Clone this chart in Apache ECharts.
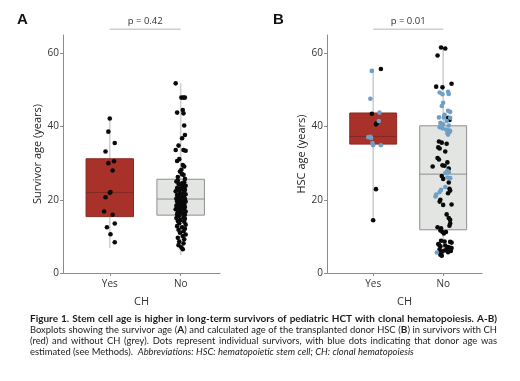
<!DOCTYPE html>
<html>
<head>
<meta charset="utf-8">
<script src="https://cdn.jsdelivr.net/npm/echarts@6/dist/echarts.min.js"></script>
<style>
html,body{margin:0;padding:0;background:#fff;}
#c{width:520px;height:381px;}
</style>
</head>
<body>
<div id="c"></div>
<script>
// ---------- data ----------
const categories = ['Yes', 'No'];
const yTicks = [0, 20, 40, 60];
// box stats: [x, whiskerLow, Q1, median, Q3, whiskerHigh]
const boxA = [[1, 6.8, 15.4, 22.0, 31.2, 42.5], [2, 4.9, 15.8, 20.2, 25.6, 51.8]];
const boxB = [[1, 14.1, 35.2, 37.3, 43.7, 55.8], [2, 4.6, 11.8, 27.0, 40.2, 61.7]];
// significance brackets: [fromCategory, toCategory, level]
const pA = 'p = 0.42';
const pB = 'p = 0.01';
const bracket = [[1, 2, 66.6]];

// panel A dots [x (category + jitter), age]
const dotsAYes = [[1.00,42.2],[0.98,38.6],[1.07,35.5],[0.94,33.2],[1.06,30.5],[0.98,30.0],[1.04,28.0],[1.01,22.1],[1.00,21.9],[0.94,20.7],[0.92,16.8],[1.04,15.9],[1.07,13.5],[0.96,12.5],[1.01,10.6],[1.07,8.4]];
const dotsANo = [
 [1.93,51.8],[2.01,47.9],[2.04,47.9],[2.06,47.9],[1.95,43.8],[2.03,44.5],[2.04,43.6],[2.05,40.3],[2.06,37.7],[2.02,36.8],[1.97,34.8],[1.93,33.6],[2.04,33.6],[2.07,33.4],[1.98,31.1],[1.95,30.6],[2.03,29.5],[2.05,29.1],[2.01,28.2],[1.99,27.7],[2.04,26.8],[1.96,26.2],[2.06,25.7],[2.02,27.0],
 [1.94,25.0],[2.02,24.5],[1.99,24.1],[2.07,23.8],[1.96,25.2],[2.05,24.8],[1.97,24.3],[2.03,23.5],[1.95,23.2],[2.00,23.0],[2.06,22.7],[1.98,22.5],[1.93,22.3],[2.04,22.0],[1.99,21.8],[2.07,21.5],[1.95,21.3],[2.02,21.0],[1.97,20.8],[2.05,20.6],[2.00,20.5],[1.94,20.3],[2.06,20.2],[2.03,22.9],
 [1.98,20.0],[2.04,19.8],[1.95,19.6],[2.07,19.5],[2.01,19.3],[1.96,19.0],[2.05,18.8],[1.99,18.6],[1.94,18.4],[2.03,18.2],[2.06,18.0],[1.97,17.8],[2.02,17.6],[1.93,17.4],[2.05,17.2],[1.99,17.0],[2.07,16.8],[1.96,16.6],[2.01,16.4],[2.04,16.2],[1.95,16.0],[2.06,15.9],[1.98,15.8],[2.03,19.9],
 [1.97,15.5],[2.04,15.3],[1.94,15.0],[2.06,14.8],[2.00,14.5],[1.96,14.2],[2.05,14.0],[1.98,13.6],[2.07,13.2],[1.95,12.8],[2.02,12.5],[2.06,12.1],[1.97,11.8],[2.04,11.4],[1.99,11.0],[2.07,10.5],[2.03,10.1],[1.96,9.6],[2.05,9.2],[1.98,8.6],[2.04,8.1],[1.97,7.6],[2.01,7.0],[2.03,6.5]
];
// panel B dots: black = known donor age, blue = estimated donor age
const dotsBYesBlack = [[1.11,55.7],[0.98,43.5],[1.04,40.6],[1.05,40.9],[1.04,22.9],[1.00,14.4]];
const dotsBYesBlue = [[0.98,55.2],[0.96,47.6],[1.09,43.8],[1.08,41.5],[0.93,37.1],[0.96,37.2],[0.99,35.5],[1.00,34.9],[1.11,34.9],[0.97,36.9]];
const dotsBNoBlack = [
 [1.97,61.6],[2.03,61.3],[1.92,59.4],[1.90,50.9],[1.99,50.7],[2.12,51.7],[2.07,42.4],[2.09,41.8],
 [1.94,35.9],[1.98,35.6],[2.05,35.3],[1.93,34.3],[1.95,34.0],[2.03,33.2],[1.92,31.4],[1.94,31.0],[1.99,29.4],[2.02,29.3],[1.85,29.1],[2.08,28.5],[2.06,30.2],
 [2.00,25.7],[2.08,24.7],[2.09,23.0],[2.10,22.5],[1.96,20.0],[2.00,18.6],[2.12,18.7],[2.08,15.0],[2.10,14.5],[2.10,13.5],[2.09,12.9],[1.92,12.5],[2.07,21.8],[1.98,26.5],[1.95,19.5],[2.05,16.0],[1.97,12.2],
 [1.96,11.6],[1.99,11.2],[2.04,11.2],[2.01,10.8],[1.97,8.8],[2.02,8.6],[2.10,8.5],[2.12,8.3],[1.93,7.9],[1.94,7.7],[1.96,7.3],[2.03,7.5],[2.07,7.1],[2.10,6.9],[2.12,6.8],[2.06,6.8],[1.95,6.5],[2.03,6.2],[1.99,5.9],[2.07,5.7],[1.96,5.5],[2.11,6.0],[1.96,5.0],[1.98,4.7]
];
const dotsBNoBlue = [
 [1.95,49.3],[1.99,48.8],[2.07,49.5],[2.08,48.9],[2.00,46.5],[1.98,45.6],[2.07,44.3],[2.10,44.0],[2.02,43.2],[1.94,42.5],[2.01,42.5],[2.10,42.4],[2.05,41.5],[1.96,41.0],[2.00,40.6],[2.08,40.3],
 [1.95,39.8],[1.99,39.5],[2.04,39.2],[2.08,39.0],[2.10,38.8],[2.09,38.5],[2.06,38.2],[2.07,37.8],[2.06,27.9],[2.08,27.5],[2.03,27.3],
 [2.06,26.1],[2.10,25.9],[2.03,23.5],[1.97,22.7],[1.95,22.1],[1.90,21.4],[1.89,20.9],
 [1.91,5.6]
];

// caption lines: '{b|..}' bold, '{i|..}' italic; last line not justified
const captionLines = [
 '{b|Figure 1. Stem cell age is higher in long-term survivors of pediatric HCT with clonal hematopoiesis. A-B)}',
 'Boxplots showing the survivor age ({b|A}) and calculated age of the transplanted donor HSC ({b|B}) in survivors with CH',
 '(red) and without CH (grey). Dots represent individual survivors, with blue dots indicating that donor age was',
 'estimated (see Methods).  {i|Abbreviations: HSC: hematopoietic stem cell; CH: clonal hematopoiesis}'
];

// ---------- styles ----------
const FONT = 'Open Sans';
const CAP_FONTS = {n: '9.4px Lato', b: 'bold 10px Lato', i: 'italic 9.4px Lato'};
const CAP_LEFT = 30, CAP_RIGHT = 497, CAP_TOP = 314, CAP_LH = 11;
const boxFill = ['#a8322a', '#e3e5e2'];
const boxStroke = ['#8a2a23', '#8f8f8f'];
const medianColor = ['#7e2a24', '#8f8f8f'];
const dotBlack = '#0a0a0a';
const dotBlue = '#6f9fc6';
const HALF = 0.335;

// ---------- caption layout (justified) ----------
const mctx = document.createElement('canvas').getContext('2d');
function parseLine(line) {
  const segs = [];
  const re = /\{([bi])\|([^}]*)\}|([^{]+)/g;
  let m;
  while ((m = re.exec(line))) {
    if (m[1]) segs.push({s: m[1], t: m[2]}); else segs.push({s: 'n', t: m[3]});
  }
  // split into words, keep "glued" pieces (no space between segments) together
  const words = [];
  let cur = null;
  segs.forEach(seg => {
    const parts = seg.t.split(/( +)/);
    parts.forEach(p => {
      if (p === '') return;
      if (/^ +$/.test(p)) { if (cur) { words.push(cur); cur = null; } return; }
      if (!cur) cur = [];
      cur.push({s: seg.s, t: p});
    });
  });
  if (cur) words.push(cur);
  return words;
}
function captionGraphics() {
  const out = [];
  captionLines.forEach((line, k) => {
    const words = parseLine(line);
    const widths = words.map(w => w.reduce((acc, p) => { mctx.font = CAP_FONTS[p.s]; return acc + mctx.measureText(p.t).width; }, 0));
    const total = widths.reduce((a, b) => a + b, 0);
    const justify = k < captionLines.length - 1;
    mctx.font = CAP_FONTS.n;
    const space = mctx.measureText(' ').width;
    const gap = justify && words.length > 1 ? (CAP_RIGHT - CAP_LEFT - total) / (words.length - 1) : space;
    let x = CAP_LEFT;
    words.forEach((w, wi) => {
      if (!justify && wi > 0 && /Abbreviations/.test(w[0].t)) x += space;
      w.forEach(p => {
        out.push({type: 'text', left: x, top: CAP_TOP + k * CAP_LH, silent: true,
          style: {text: p.t, font: CAP_FONTS[p.s], fill: '#1a1a1a'}});
        mctx.font = CAP_FONTS[p.s];
        x += mctx.measureText(p.t).width;
      });
      x += gap;
    });
  });
  return out;
}

function renderBox(params, api) {
  const i = params.dataIndex;
  const x = api.value(0);
  const lo = api.coord([x, api.value(1)]);
  const hi = api.coord([x, api.value(5)]);
  const tl = api.coord([x - HALF, api.value(4)]);
  const br = api.coord([x + HALF, api.value(2)]);
  const m1 = api.coord([x - HALF, api.value(3)]);
  const m2 = api.coord([x + HALF, api.value(3)]);
  return {
    type: 'group',
    children: [
      {type: 'line', shape: {x1: lo[0], y1: lo[1], x2: hi[0], y2: hi[1]}, style: {stroke: '#d0d0d0', lineWidth: 1.6}},
      {type: 'rect', shape: {x: tl[0], y: tl[1], width: br[0] - tl[0], height: br[1] - tl[1]}, style: {fill: boxFill[i], stroke: boxStroke[i], lineWidth: 1}},
      {type: 'line', shape: {x1: m1[0], y1: m1[1], x2: m2[0], y2: m2[1]}, style: {stroke: medianColor[i], lineWidth: 1}}
    ]
  };
}
function makeBracketRenderer(label) {
  return function (params, api) {
    const a = api.coord([api.value(0), api.value(2)]);
    const b = api.coord([api.value(1), api.value(2)]);
    return {
      type: 'group',
      children: [
        {type: 'line', shape: {x1: a[0], y1: a[1], x2: b[0], y2: b[1]}, style: {stroke: '#b5b5b5', lineWidth: 1}},
        {type: 'text', x: (a[0] + b[0]) / 2, y: a[1] - 3,
          style: {text: label, align: 'center', verticalAlign: 'bottom', font: '9.5px "Open Sans"', fill: '#333'}}
      ]
    };
  };
}

function xAxis(gridIndex) {
  return {
    type: 'value', gridIndex, min: 0.34, max: 2.555,
    name: 'CH', nameLocation: 'middle', nameGap: 23,
    nameTextStyle: {fontFamily: FONT, fontSize: 11, color: '#333'},
    splitLine: {show: false},
    axisLine: {show: true, lineStyle: {color: '#8c8c8c', width: 1}},
    axisTick: {show: true, length: 3, customValues: [1, 2], lineStyle: {color: '#8c8c8c'}},
    axisLabel: {customValues: [1, 2], margin: 6, formatter: v => categories[Math.round(v) - 1] || '',
      fontFamily: FONT, fontSize: 10, color: '#333'}
  };
}
function yAxis(gridIndex, name) {
  return {
    type: 'value', gridIndex, min: 0, max: 65,
    name, nameLocation: 'middle', nameGap: 20,
    nameTextStyle: {fontFamily: FONT, fontSize: 11, color: '#222'},
    splitLine: {show: false},
    axisLine: {show: true, lineStyle: {color: '#8c8c8c', width: 1}},
    axisTick: {show: true, length: 3, customValues: yTicks, lineStyle: {color: '#8c8c8c'}},
    axisLabel: {customValues: yTicks, margin: 4, fontFamily: FONT, fontSize: 10, color: '#333'}
  };
}
function dots(data, xi, color) {
  return {
    type: 'scatter', xAxisIndex: xi, yAxisIndex: xi, data, symbolSize: 4.6,
    itemStyle: {color, opacity: 1}, clip: false, z: 5, silent: true
  };
}

const chart = echarts.init(document.getElementById('c'), null, {renderer: 'canvas'});
chart.setOption({
  animation: false,
  backgroundColor: '#fff',
  grid: [
    {left: 63, width: 157, top: 35, height: 238},
    {left: 327, width: 155, top: 35, height: 238}
  ],
  xAxis: [xAxis(0), xAxis(1)],
  yAxis: [yAxis(0, 'Survivor age (years)'), yAxis(1, 'HSC age (years)')],
  graphic: [
    {type: 'text', left: 17, top: 12, style: {text: 'A', font: 'bold 15px "Liberation Sans"', fill: '#111'}},
    {type: 'text', left: 273, top: 12, style: {text: 'B', font: 'bold 15px "Liberation Sans"', fill: '#111'}}
  ].concat(captionGraphics()),
  series: [
    {type: 'custom', xAxisIndex: 0, yAxisIndex: 0, data: boxA, renderItem: renderBox, z: 2, silent: true},
    {type: 'custom', xAxisIndex: 1, yAxisIndex: 1, data: boxB, renderItem: renderBox, z: 2, silent: true},
    {type: 'custom', xAxisIndex: 0, yAxisIndex: 0, data: bracket, renderItem: makeBracketRenderer(pA), clip: false, silent: true},
    {type: 'custom', xAxisIndex: 1, yAxisIndex: 1, data: bracket, renderItem: makeBracketRenderer(pB), clip: false, silent: true},
    dots(dotsAYes, 0, dotBlack),
    dots(dotsANo, 0, dotBlack),
    dots(dotsBYesBlack, 1, dotBlack),
    dots(dotsBYesBlue, 1, dotBlue),
    dots(dotsBNoBlack, 1, dotBlack),
    dots(dotsBNoBlue, 1, dotBlue)
  ]
});
</script>
</body>
</html>
